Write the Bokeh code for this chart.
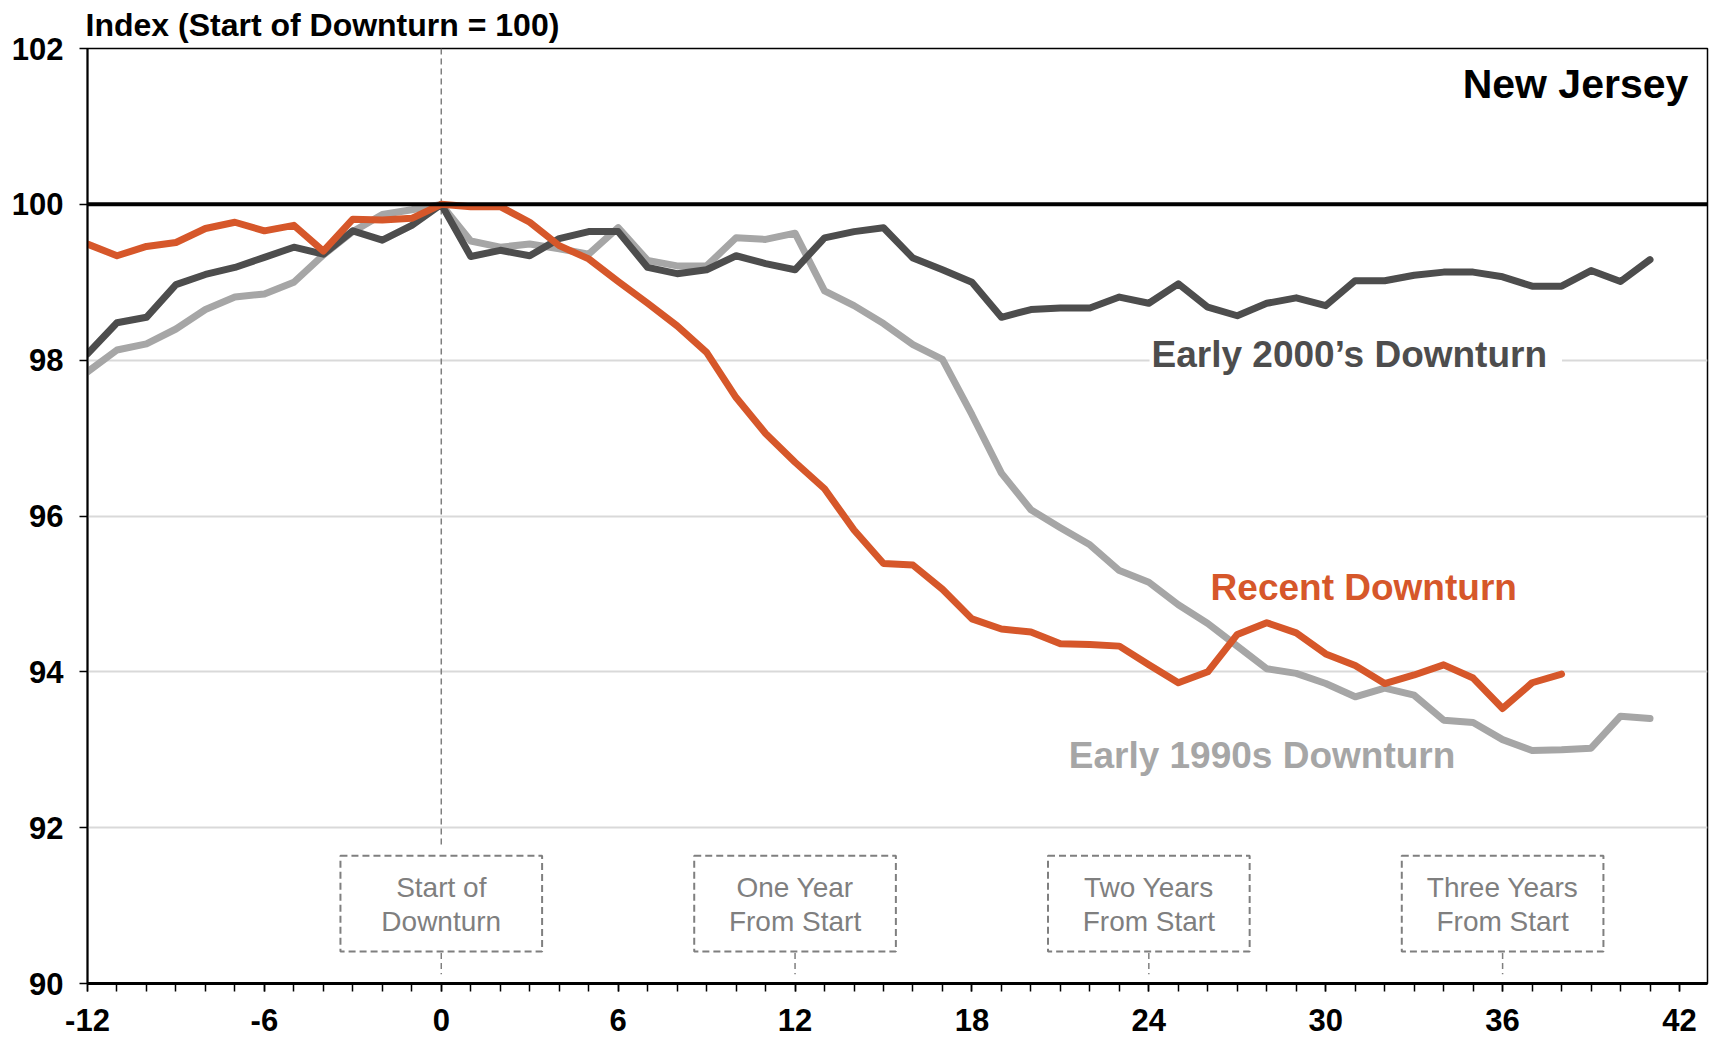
from bokeh.plotting import figure
from bokeh.models import Range1d, FixedTicker, Span, Label
from bokeh.embed import file_html
from bokeh.resources import INLINE
from bokeh.core.properties import value

# ---------------- data ----------------
months = list(range(-12, 42))
recent_months = list(range(-12, 39))

recent = [99.49, 99.34, 99.46, 99.51, 99.69, 99.77, 99.66, 99.73, 99.40, 99.81,
          99.80, 99.82, 100.00, 99.97, 99.97, 99.77, 99.47, 99.30, 99.01, 98.73,
          98.44, 98.10, 97.52, 97.06, 96.69, 96.35, 95.82, 95.39, 95.37, 95.06,
          94.68, 94.55, 94.51, 94.36, 94.35, 94.33, 94.09, 93.86, 94.00, 94.48,
          94.63, 94.50, 94.23, 94.08, 93.85, 93.96, 94.09, 93.92, 93.53, 93.86,
          93.97]

early_2000s = [98.08, 98.48, 98.55, 98.97, 99.10, 99.19, 99.32, 99.45, 99.36, 99.66,
               99.54, 99.73, 100.00, 99.33, 99.41, 99.34, 99.56, 99.65, 99.65, 99.19,
               99.11, 99.16, 99.34, 99.24, 99.16, 99.57, 99.65, 99.70, 99.31, 99.16,
               99.00, 98.55, 98.65, 98.67, 98.67, 98.81, 98.73, 98.98, 98.68, 98.57,
               98.73, 98.80, 98.70, 99.02, 99.02, 99.09, 99.13, 99.13, 99.07, 98.95,
               98.95, 99.15, 99.01, 99.29]

early_1990s = [97.85, 98.13, 98.21, 98.40, 98.65, 98.81, 98.85, 99.00, 99.35, 99.65,
               99.87, 99.93, 100.00, 99.53, 99.45, 99.49, 99.43, 99.36, 99.70, 99.28,
               99.21, 99.21, 99.57, 99.55, 99.63, 98.89, 98.70, 98.47, 98.20, 98.01,
               97.30, 96.55, 96.08, 95.85, 95.63, 95.30, 95.15, 94.86, 94.62, 94.33,
               94.04, 93.98, 93.85, 93.68, 93.79, 93.70, 93.38, 93.35, 93.13, 92.99,
               93.00, 93.02, 93.43, 93.40]

x_ticks = [-12, -6, 0, 6, 12, 18, 24, 30, 36, 42]
x_tick_labels = ["-12", "-6", "0", "6", "12", "18", "24", "30", "36", "42"]
x_minor_ticks = list(range(-12, 43))
y_ticks = [90, 92, 94, 96, 98, 100, 102]
grid_ticks = [92, 94, 96, 98]

marker_months = [0, 12, 24, 36]
marker_line1 = ["Start of", "One Year", "Two Years", "Three Years"]
marker_line2 = ["Downturn", "From Start", "From Start", "From Start"]

title_text = "Index (Start of Downturn = 100)"
region_text = "New Jersey"
label_2000s = "Early 2000\u2019s Downturn"
label_recent = "Recent Downturn"
label_1990s = "Early 1990s Downturn"

# ---------------- style ----------------
FONT = "Liberation Sans"
ORANGE = "#D6572A"
DARK = "#4D4D4D"
LIGHT = "#A6A6A6"
BOXGRAY = "#7F7F7F"
GRID = "#D9D9D9"

BOX_HALF = 3.42
BOX_TOP = 91.64
BOX_BOTTOM = 90.41

p = figure(width=1712, height=1045,
           x_range=Range1d(-12, 42.95), y_range=Range1d(90, 102),
           output_backend="svg", toolbar_location=None,
           min_border_left=87, min_border_right=5,
           min_border_top=48, min_border_bottom=62)

p.title.text = title_text
p.title.text_font = FONT
p.title.text_font_style = "bold"
p.title.text_font_size = "32px"
p.title.text_color = "black"
p.title.align = "left"
p.title.vertical_align = "top"
p.title.offset = -2
p.title.standoff = 8

p.outline_line_color = "black"
p.outline_line_width = 1.5
p.background_fill_color = "white"
p.border_fill_color = "white"

p.xgrid.visible = False
p.ygrid.ticker = FixedTicker(ticks=grid_ticks)
p.ygrid.grid_line_color = GRID
p.ygrid.grid_line_width = 2

# axes
p.xaxis.ticker = FixedTicker(ticks=x_ticks, minor_ticks=x_minor_ticks)
p.xaxis.major_label_overrides = dict(zip(x_ticks, x_tick_labels))
p.yaxis.ticker = FixedTicker(ticks=y_ticks)
for ax in (p.xaxis, p.yaxis):
    ax.major_label_text_font = FONT
    ax.major_label_text_font_style = "bold"
    ax.major_label_text_font_size = "31px"
    ax.major_label_text_color = "black"
    ax.major_tick_line_color = "black"
    ax.major_tick_line_width = 1.5
    ax.major_tick_in = 0
    ax.major_tick_out = 8
    ax.axis_line_color = "black"
p.xaxis.axis_line_width = 3
p.yaxis.axis_line_width = 2
p.xaxis.minor_tick_in = 0
p.xaxis.minor_tick_out = 8
p.xaxis.minor_tick_line_color = "black"
p.xaxis.minor_tick_line_width = 1.5
p.yaxis.minor_tick_line_color = None
p.xaxis.major_label_standoff = 17
p.yaxis.major_label_standoff = 16

# reference line at 100
p.add_layout(Span(location=100, dimension="width", line_color="black", line_width=4))

# dashed marker lines
p.segment(x0=[0], y0=[102], x1=[0], y1=[BOX_TOP + 0.1],
          line_color=BOXGRAY, line_width=1.5, line_dash="6 4")
p.segment(x0=marker_months, y0=[BOX_BOTTOM - 0.02] * 4,
          x1=marker_months, y1=[90.12] * 4,
          line_color=BOXGRAY, line_width=1.5, line_dash="6 4")

# boxes
p.quad(left=[m - BOX_HALF for m in marker_months],
       right=[m + BOX_HALF for m in marker_months],
       top=BOX_TOP, bottom=BOX_BOTTOM,
       fill_color="white", line_color=BOXGRAY, line_width=2, line_dash="7 4")
p.text(x=marker_months, y=[91.23] * 4, text=marker_line1,
       text_align="center", text_baseline="middle",
       text_font=value(FONT), text_font_size="28px", text_color=BOXGRAY)
p.text(x=marker_months, y=[90.80] * 4, text=marker_line2,
       text_align="center", text_baseline="middle",
       text_font=value(FONT), text_font_size="28px", text_color=BOXGRAY)

# series
p.line(months, early_1990s, line_color=LIGHT, line_width=7,
       line_join="round", line_cap="round")
p.line(months, early_2000s, line_color=DARK, line_width=7,
       line_join="round", line_cap="round")
p.line(recent_months, recent, line_color=ORANGE, line_width=7,
       line_join="round", line_cap="round")

# labels
p.add_layout(Label(x=42.3, y=101.55, text=region_text,
                   text_font=FONT, text_font_style="bold", text_font_size="41px",
                   text_color="black", text_align="right", text_baseline="middle"))
p.add_layout(Label(x=31.02, y=97.99, text=label_2000s,
                   text_font=FONT, text_font_style="bold", text_font_size="37px",
                   text_color=DARK, text_align="center", text_baseline="middle",
                   background_fill_color="white", padding=(2, 15, 2, 14)))
p.add_layout(Label(x=31.29, y=95.08, text=label_recent,
                   text_font=FONT, text_font_style="bold", text_font_size="37px",
                   text_color=ORANGE, text_align="center", text_baseline="middle"))
p.add_layout(Label(x=27.84, y=92.92, text=label_1990s,
                   text_font=FONT, text_font_style="bold", text_font_size="37px",
                   text_color=LIGHT, text_align="center", text_baseline="middle"))

open("out.html", "w").write(file_html(p, INLINE))
